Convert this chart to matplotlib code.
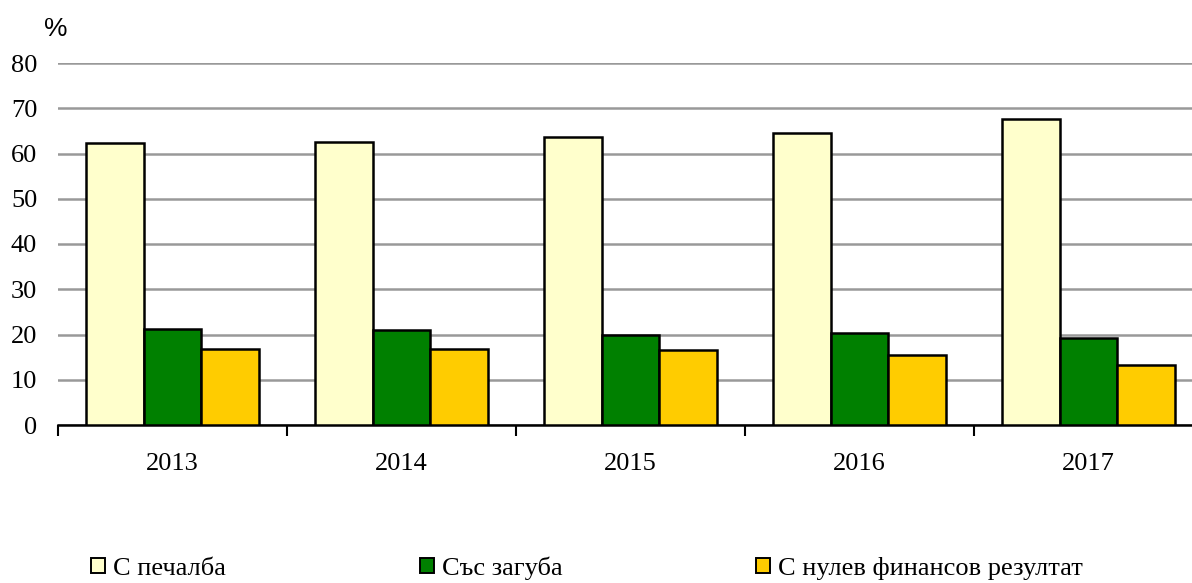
import numpy as np
import matplotlib.pyplot as plt
from matplotlib.patches import Patch

# Данни
years = ["2013", "2014", "2015", "2016", "2017"]
profit = [62.3, 62.5, 63.7, 64.5, 67.6]
loss = [21.3, 21.0, 19.9, 20.3, 19.3]
zero = [16.7, 16.9, 16.6, 15.5, 13.2]
labels = ["С печалба", "Със загуба", "С нулев финансов резултат"]
colors = ["#FFFFCC", "#008000", "#FFCC00"]

plt.rcParams['font.family'] = ['Liberation Serif', 'DejaVu Serif']

fig = plt.figure(figsize=(11.92, 5.83), dpi=100)
ax = fig.add_axes([58 / 1192, 158 / 583, 1145 / 1192, 362 / 583])

x = np.arange(len(years))
w = 0.251
for i, vals in enumerate([profit, loss, zero]):
    ax.bar(x + (i - 1) * w, vals, w, color=colors[i], edgecolor='black',
           linewidth=1.8, zorder=3)

ax.set_xlim(-0.5, len(years) - 0.5)
ax.set_ylim(0, 80)
ax.set_yticks(range(0, 81, 10))
ax.yaxis.grid(True, color='#999999', linewidth=1.8, zorder=0)
ax.tick_params(axis='y', length=0, labelsize=19, pad=15)

# отметки между категориите, надписи в средата
ax.set_xticks(np.arange(-0.5, len(years) + 0.5, 1))
ax.set_xticklabels([])
ax.set_xticks(x, minor=True)
ax.set_xticklabels(years, minor=True)
ax.tick_params(axis='x', which='major', length=8, width=1.5, direction='out')
ax.tick_params(axis='x', which='minor', length=0, labelsize=19, pad=20.5)

for s in ['top', 'right', 'left']:
    ax.spines[s].set_visible(False)
ax.spines['bottom'].set_linewidth(1.8)

fig.text(44 / 1192, 1 - 29 / 583, "%", family='Liberation Sans', fontsize=19,
         va='center', ha='left')

handles = [Patch(facecolor=c, edgecolor='black', linewidth=1.4) for c in colors]
fig.legend(handles, labels, ncol=3, loc='center left',
           bbox_to_anchor=(91 / 1192, 1 - 568 / 583), frameon=False,
           fontsize=19, handlelength=0.53, handleheight=0.53, handletextpad=0.3,
           columnspacing=7.35, borderpad=0, borderaxespad=0)

plt.savefig('out.png', dpi=100)
